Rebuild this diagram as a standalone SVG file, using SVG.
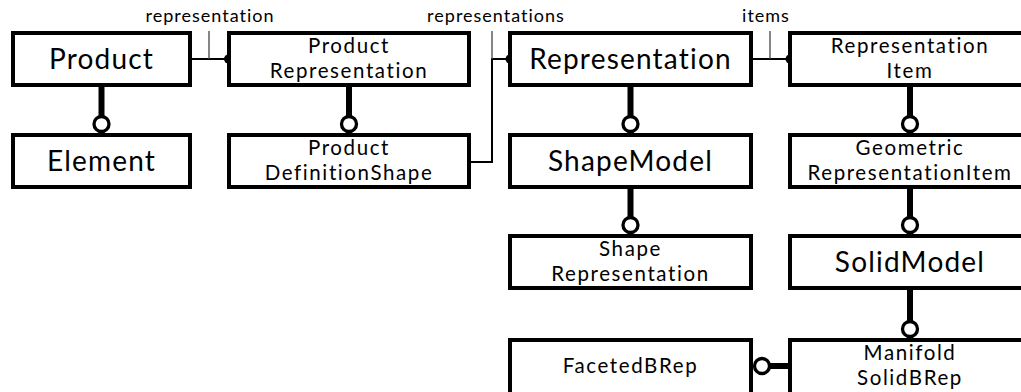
<svg xmlns="http://www.w3.org/2000/svg" width="1021" height="392" viewBox="0 0 1021 392">
<style>
.box{fill:#fff;stroke:#000;stroke-width:4}
.big{font-family:Lato,"Open Sans",sans-serif;font-size:28px;letter-spacing:1.2px;text-anchor:middle;fill:#000}
.sm{font-family:Lato,"Open Sans",sans-serif;font-size:20.5px;letter-spacing:1.6px;text-anchor:middle;fill:#000}
.lbl{font-family:Lato,"Open Sans",sans-serif;font-size:18px;letter-spacing:1px;text-anchor:middle;fill:#000}
.thin{fill:none;stroke:#000;stroke-width:2}
.tick{fill:none;stroke:#444;stroke-width:1.3}
.thick{fill:none;stroke:#000;stroke-width:6}
.ring{fill:#fff;stroke:#000;stroke-width:3.3}
.dot{fill:#000}
</style>
<g id="connectors">
<line class="thin" x1="192" y1="59" x2="228" y2="59"/>
<line class="tick" x1="209" y1="31" x2="209" y2="59"/>
<circle class="dot" cx="228.5" cy="59" r="4.5"/>
<text class="lbl" x="210" y="22">representation</text>
<polyline class="thin" points="471,162 492,162 492,59 510,59"/>
<line class="tick" x1="492" y1="31" x2="492" y2="59"/>
<circle class="dot" cx="510" cy="59" r="4.5"/>
<text class="lbl" x="496" y="22">representations</text>
<line class="thin" x1="753" y1="59" x2="790" y2="59"/>
<line class="tick" x1="770" y1="31" x2="770" y2="59"/>
<circle class="dot" cx="790" cy="59" r="4.5"/>
<text class="lbl" x="766" y="22">items</text>
<line class="thick" x1="101.5" y1="87" x2="101.5" y2="117"/>
<circle class="ring" cx="101.5" cy="124" r="7.5"/>
<line class="thick" x1="349" y1="87" x2="349" y2="117"/>
<circle class="ring" cx="349" cy="124" r="7.5"/>
<line class="thick" x1="630.5" y1="87" x2="630.5" y2="117"/>
<circle class="ring" cx="630.5" cy="124" r="7.5"/>
<line class="thick" x1="910" y1="87" x2="910" y2="117"/>
<circle class="ring" cx="910" cy="124" r="7.5"/>
<line class="thick" x1="630.5" y1="189" x2="630.5" y2="218"/>
<circle class="ring" cx="630.5" cy="225" r="7.5"/>
<line class="thick" x1="910" y1="189" x2="910" y2="218"/>
<circle class="ring" cx="910" cy="225" r="7.5"/>
<line class="thick" x1="910" y1="290" x2="910" y2="322"/>
<circle class="ring" cx="910" cy="329" r="7.5"/>
<line class="thick" x1="788" y1="366" x2="769" y2="366"/>
<circle class="ring" cx="762" cy="366" r="7.5"/>
</g>
<g id="product"><rect class="box" x="13" y="33" width="177" height="52"/><text class="big" x="101.5" y="69">Product</text></g>
<g id="element"><rect class="box" x="13" y="135" width="177" height="52"/><text class="big" x="101.5" y="171">Element</text></g>
<g id="productRepresentation"><rect class="box" x="229" y="33" width="240" height="52"/><text class="sm" x="349" y="53">Product<tspan x="349" dy="25">Representation</tspan></text></g>
<g id="productDefinitionShape"><rect class="box" x="229" y="135" width="240" height="52"/><text class="sm" x="349" y="155">Product<tspan x="349" dy="25">DefinitionShape</tspan></text></g>
<g id="representation"><rect class="box" x="510" y="33" width="241" height="52"/><text class="big" x="630.5" y="69">Representation</text></g>
<g id="shapeModel"><rect class="box" x="510" y="135" width="241" height="52"/><text class="big" x="630.5" y="171">ShapeModel</text></g>
<g id="shapeRepresentation"><rect class="box" x="510" y="236" width="241" height="52"/><text class="sm" x="630.5" y="256">Shape<tspan x="630.5" dy="25">Representation</tspan></text></g>
<g id="facetedBRep"><rect class="box" x="510" y="340" width="241" height="62"/><text class="sm" x="630.5" y="373">FacetedBRep</text></g>
<g id="representationItem"><rect class="box" x="790" y="33" width="240" height="52"/><text class="sm" x="910" y="53">Representation<tspan x="910" dy="25">Item</tspan></text></g>
<g id="geometricRepresentationItem"><rect class="box" x="790" y="135" width="240" height="52"/><text class="sm" x="910" y="155">Geometric<tspan x="910" dy="25">RepresentationItem</tspan></text></g>
<g id="solidModel"><rect class="box" x="790" y="236" width="240" height="52"/><text class="big" x="910" y="272">SolidModel</text></g>
<g id="manifoldSolidBRep"><rect class="box" x="790" y="340" width="240" height="62"/><text class="sm" x="910" y="360">Manifold<tspan x="910" dy="25">SolidBRep</tspan></text></g>
</svg>
